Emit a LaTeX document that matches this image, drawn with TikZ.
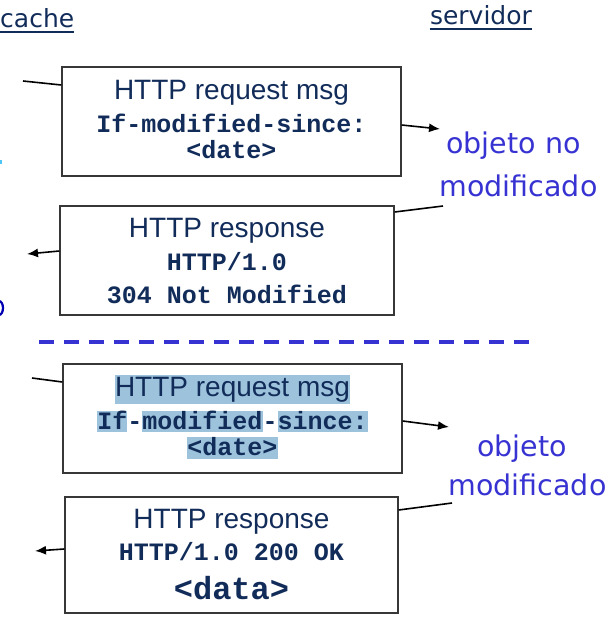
\documentclass[tikz,border=0pt]{standalone}
\usepackage{fontspec}
\setmainfont{Liberation Sans}
\newfontfamily\mono{Liberation Mono}
\newfontfamily\comic{DejaVu Sans}
\usetikzlibrary{arrows.meta}
\definecolor{marine}{RGB}{18,44,90}
\definecolor{bleu}{RGB}{55,50,210}
\definecolor{surlign}{RGB}{157,195,220}
\definecolor{cadre}{RGB}{55,55,55}
% surlignage : hauteur, profondeur, texte
\newcommand{\surl}[3]{{\setlength{\fboxsep}{0pt}\colorbox{surlign}{\rule[-#2]{0pt}{#1}#3}}}
\begin{document}
\begin{tikzpicture}[x=1pt, y=-1pt, >={Latex[length=11pt,width=9pt]},
    boite/.style={draw=cadre, line width=1.4pt, inner sep=0pt},
    titre/.style={anchor=base, inner sep=0pt, text=marine, font=\fontsize{28}{30}\selectfont},
    code/.style={anchor=base, inner sep=0pt, text=marine, font=\mono\bfseries\fontsize{25}{27}\selectfont},
    etat/.style={anchor=base, inner sep=0pt, text=bleu, font=\comic\fontsize{28.5}{30}\selectfont},
    entete/.style={inner sep=0pt, text=marine, font=\comic\fontsize{25}{27}\selectfont},
    fil/.style={line width=1.6pt}]

    \clip (0,0) rectangle (609,624);

    % En-têtes soulignés
    \node[entete, anchor=base west] (cache) at (0,27) {cache};
    \node[entete, anchor=base] (servidor) at (481,24) {servidor};
    \draw[marine, line width=2pt] ([yshift=-4.5pt]cache.base west) -- ([yshift=-4.5pt]cache.base east);
    \draw[marine, line width=2pt] ([yshift=-4.5pt]servidor.base west) -- ([yshift=-4.5pt]servidor.base east);

    % Restes coupés au bord gauche
    \fill[cyan!70] (0,160) rectangle (2,164);
    \draw[blue!70!black, line width=2.2pt] (-1,308) ellipse (4 and 7);

    % ==============================================
    % 1. LES QUATRE MESSAGES
    % ==============================================
    \foreach \nom/\cx/\cy/\w/\h in {req1/231.5/121.5/339/109, resp1/227/260.5/334/109,
        req2/232.5/418.5/339/109, resp2/231.5/555/333/116} {
        \node[boite, minimum width=\w pt, minimum height=\h pt] (\nom) at (\cx,\cy) {};
    }

    % Requête, objet non modifié
    \node[titre] (req1a) at (req1.center |- 0,99) {HTTP request msg};
    \node[code] (req1b) at (req1.center |- 0,132) {If-modified-since:};
    \node[code] (req1c) at (req1.center |- 0,158) {<date>};

    % Réponse 304
    \node[titre] (resp1a) at (resp1.center |- 0,237) {HTTP response};
    \node[code] (resp1b) at (resp1.center |- 0,270) {HTTP/1.0};
    \node[code] (resp1c) at (resp1.center |- 0,303) {304 Not Modified};

    % Requête, objet modifié (texte surligné)
    \node[titre] (req2a) at (req2.center |- 0,396) {\surl{29pt}{8pt}{HTTP request msg}};
    \node[code] (req2b) at (req2.center |- 0,429) {\surl{19pt}{3pt}{If}-\surl{19pt}{3pt}{modified}-\surl{19pt}{3pt}{since:}};
    \node[code] (req2c) at (req2.center |- 0,455) {\surl{17pt}{4pt}{<date>}};

    % Réponse 200
    \node[titre] (resp2a) at (resp2.center |- 0,528) {HTTP response};
    \node[code] (resp2b) at (resp2.center |- 0,560) {HTTP/1.0 200 OK};
    \node[code, font=\mono\bfseries\fontsize{32}{34}\selectfont] (resp2c) at (resp2.center |- 0,599) {<data>};

    % ==============================================
    % 2. ÉTATS DE L'OBJET
    % ==============================================
    \node[etat] (nonmod1) at (513.5,153) {objeto no};
    \node[etat] (nonmod2) at (518.5,196) {modificado};
    \node[etat] (mod1) at (522,456) {objeto};
    \node[etat] (mod2) at (527.5,495) {modificado};

    % Séparation en tirets
    \draw[bleu, line width=4pt, dash pattern=on 15pt off 10pt] (39,342) -- (532,342);

    % ==============================================
    % 3. FLÈCHES ENTRE CACHE ET SERVEUR
    % ==============================================
    \coordinate (e1) at (23,81);
    \coordinate (s1) at (440,129);
    \coordinate (e2) at (443,206);
    \coordinate (s2) at (27,254);
    \coordinate (e3) at (32,378);
    \coordinate (s3) at (449,427);
    \coordinate (e4) at (452,503);
    \coordinate (s4) at (35,551);

    \draw[fil] (e1) -- (req1.west |- 0,85);
    \draw[fil, ->] (req1.east |- 0,125) -- (s1);
    \draw[fil] (e2) -- (resp1.east |- 0,212);
    \draw[fil, ->] (resp1.west |- 0,251) -- (s2);
    \draw[fil] (e3) -- (req2.west |- 0,382);
    \draw[fil, ->] (req2.east |- 0,421) -- (s3);
    \draw[fil] (e4) -- (resp2.east |- 0,510);
    \draw[fil, ->] (resp2.west |- 0,549) -- (s4);

\end{tikzpicture}
\end{document}
